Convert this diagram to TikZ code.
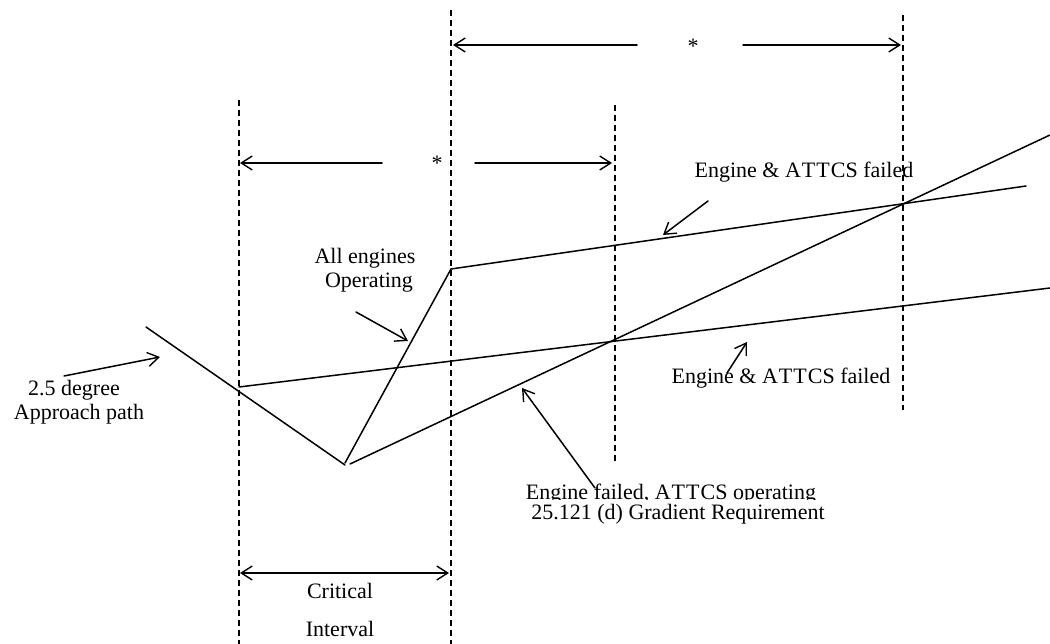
\documentclass[tikz,border=0pt]{standalone}
\usepackage{fontspec}
\setmainfont{Liberation Serif}
\usetikzlibrary{arrows.meta}
\tikzset{
  ln/.style={line width=1.5pt, line cap=round},
  dline/.style={line width=1.4pt, dash pattern=on 6pt off 4pt},
  lbl/.style={font=\fontsize{22}{25}\selectfont, inner sep=0pt},
  arr/.style={ln, -{Straight Barb[length=11pt,width=14pt,line width=1.4pt]}},
  darr/.style={ln, {Straight Barb[length=11pt,width=14pt,line width=1.4pt]}-{Straight Barb[length=11pt,width=14pt,line width=1.4pt]}}
}
\begin{document}
\begin{tikzpicture}[x=1pt,y=-1pt]
\useasboundingbox (0,0) rectangle (1050,644);
% dashed verticals
\coordinate (v1t) at (239,100); \coordinate (v1b) at (239,644);
\coordinate (v2t) at (451,10);  \coordinate (v2b) at (451,644);
\coordinate (v3t) at (615,105); \coordinate (v3b) at (615,462);
\coordinate (v4t) at (903,15);  \coordinate (v4b) at (903,410);
\draw[dline] (v1t) -- (v1b);
\draw[dline] (v2t) -- (v2b);
\draw[dline] (v3t) -- (v3b);
\draw[dline] (v4t) -- (v4b);
% top dimension
\node[lbl, anchor=base] (s1) at (693,54) {*};
\coordinate (a1l) at (453,45); \coordinate (a1m) at (637,45);
\coordinate (a1n) at (743,45); \coordinate (a1r) at (901,45);
\draw[arr] (a1m) -- (a1l);
\draw[arr] (a1n) -- (a1r);
% second dimension
\node[lbl, anchor=base] (s2) at (437,171) {*};
\coordinate (a2l) at (240,163); \coordinate (a2m) at (382,163);
\coordinate (a2n) at (475,163); \coordinate (a2r) at (612,163);
\draw[arr] (a2m) -- (a2l);
\draw[arr] (a2n) -- (a2r);
% critical interval
\coordinate (c1) at (240,573); \coordinate (c2) at (449,573);
\draw[darr] (c1) -- (c2);
\node[lbl] (crit) at (340,591) {Critical};
\node[lbl] (intv) at (340,629) {Interval};
% main lines
\coordinate (ap1) at (146,327); \coordinate (ap2) at (345,465);
\draw[ln] (ap1) -- (ap2);
\coordinate (ae1) at (345,463); \coordinate (ae2) at (451,269); \coordinate (ae3) at (1026,186);
\draw[ln] (ae1) -- (ae2) -- (ae3);
\coordinate (st1) at (350,464); \coordinate (st2) at (1050,135);
\draw[ln] (st1) -- (st2);
\coordinate (lo1) at (239,387); \coordinate (lo2) at (1050,288);
\draw[ln] (lo1) -- (lo2);
% labels
\node[lbl] (deg) at (74,390) {2.5 degree};
\node[lbl] (app) at (79,414) {Approach path};
\coordinate (t1) at (64,376); \coordinate (h1) at (160,357);
\draw[arr] (t1) -- (h1);
\node[lbl] (all) at (365,258) {All engines};
\node[lbl] (op) at (369,283) {Operating};
\coordinate (t2) at (356,312); \coordinate (h2) at (408,341);
\draw[arr] (t2) -- (h2);
\node[lbl] (ef1) at (804,172) {Engine \& A\kern1pt T\kern1pt T\kern1pt CS failed};
\coordinate (t3) at (708,201); \coordinate (h3) at (663,235);
\draw[arr] (t3) -- (h3);
\node[lbl] (ef2) at (781,378) {Engine \& A\kern1pt T\kern1pt T\kern1pt CS failed};
\coordinate (t4) at (727,373); \coordinate (h4) at (747,342);
\draw[arr] (t4) -- (h4);
\begin{scope}
\clip (400,470) rectangle (900,499);
\node[lbl] (efo) at (671,494) {Engine failed, A\kern1pt T\kern1pt T\kern1pt CS operating};
\end{scope}
\node[lbl] (grad) at (678,514) {25.121 (d) Gradient Requirement};
\coordinate (t5) at (595,488); \coordinate (h5) at (522,388);
\draw[arr] (t5) -- (h5);
\end{tikzpicture}
\end{document}
